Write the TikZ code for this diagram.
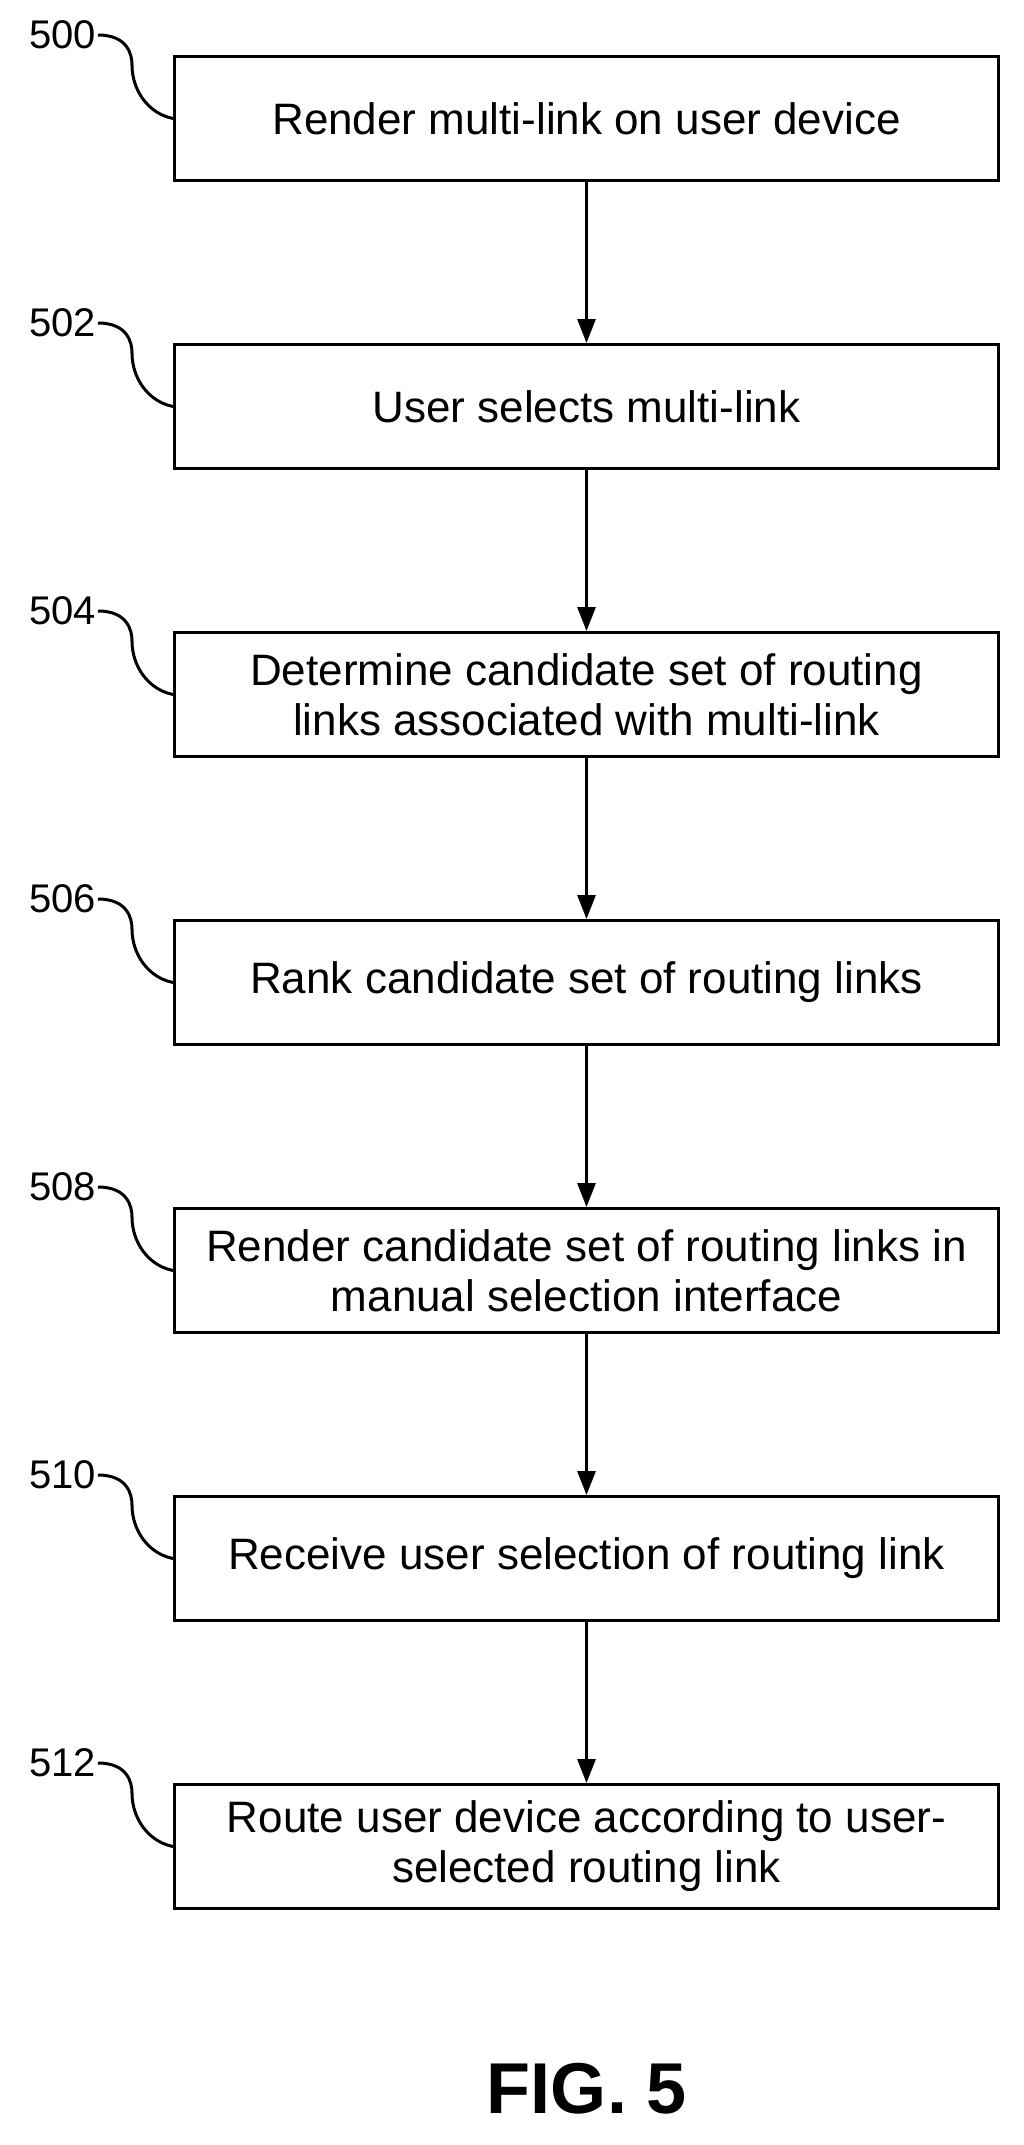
\documentclass[tikz,border=0pt]{standalone}
\usepackage{fontspec}
\setmainfont{Liberation Sans}
\usetikzlibrary{positioning, arrows.meta}
\tikzstyle{stepbox} = [rectangle, draw, line width=3pt, minimum width=824pt, minimum height=124pt, align=center, font=\fontsize{44}{50}\selectfont, inner sep=0pt]
\tikzstyle{ref} = [font=\fontsize{40}{46}\selectfont, inner sep=2pt]
\tikzstyle{arrow} = [line width=3pt, -{Triangle[length=24pt, width=18pt]}]
\tikzstyle{lead} = [line width=3pt]

\begin{document}
\begin{tikzpicture}[x=1pt, y=1pt, node distance=161pt]
  \useasboundingbox (0,0) rectangle (1024,-2145);

  % Process steps
  \node (s500) [stepbox, anchor=north west] at (173,-55) {Render multi-link on user device};
  \node (s502) [stepbox, below=of s500] {User selects multi-link};
  \node (s504) [stepbox, below=of s502] {Determine candidate set of routing\\links associated with multi-link};
  \node (s506) [stepbox, below=of s504] {Rank candidate set of routing links};
  \node (s508) [stepbox, below=of s506] {Render candidate set of routing links in\\manual selection interface};
  \node (s510) [stepbox, below=of s508] {Receive user selection of routing link};
  \node (s512) [stepbox, below=of s510] {Route user device according to user-\\selected routing link};

  % Reference numerals with lead lines
  \foreach \n in {500,502,504,506,508,510,512} {
    \node (l\n) [ref, anchor=east] at ([xshift=-75pt, yshift=20pt]s\n.north west) {\n};
    \draw[lead] (l\n.east) .. controls +(30,0) and +(0,10) .. +(34,-30)
      .. controls +(0,-25) and +(-25,5) .. (s\n.west);
  }

  % Arrows
  \draw[arrow] (s500) -- (s502);
  \draw[arrow] (s502) -- (s504);
  \draw[arrow] (s504) -- (s506);
  \draw[arrow] (s506) -- (s508);
  \draw[arrow] (s508) -- (s510);
  \draw[arrow] (s510) -- (s512);

  % Figure label
  \node (fig) [font=\bfseries\fontsize{72}{80}\selectfont] at (587,-2089) {FIG. 5};

\end{tikzpicture}
\end{document}
